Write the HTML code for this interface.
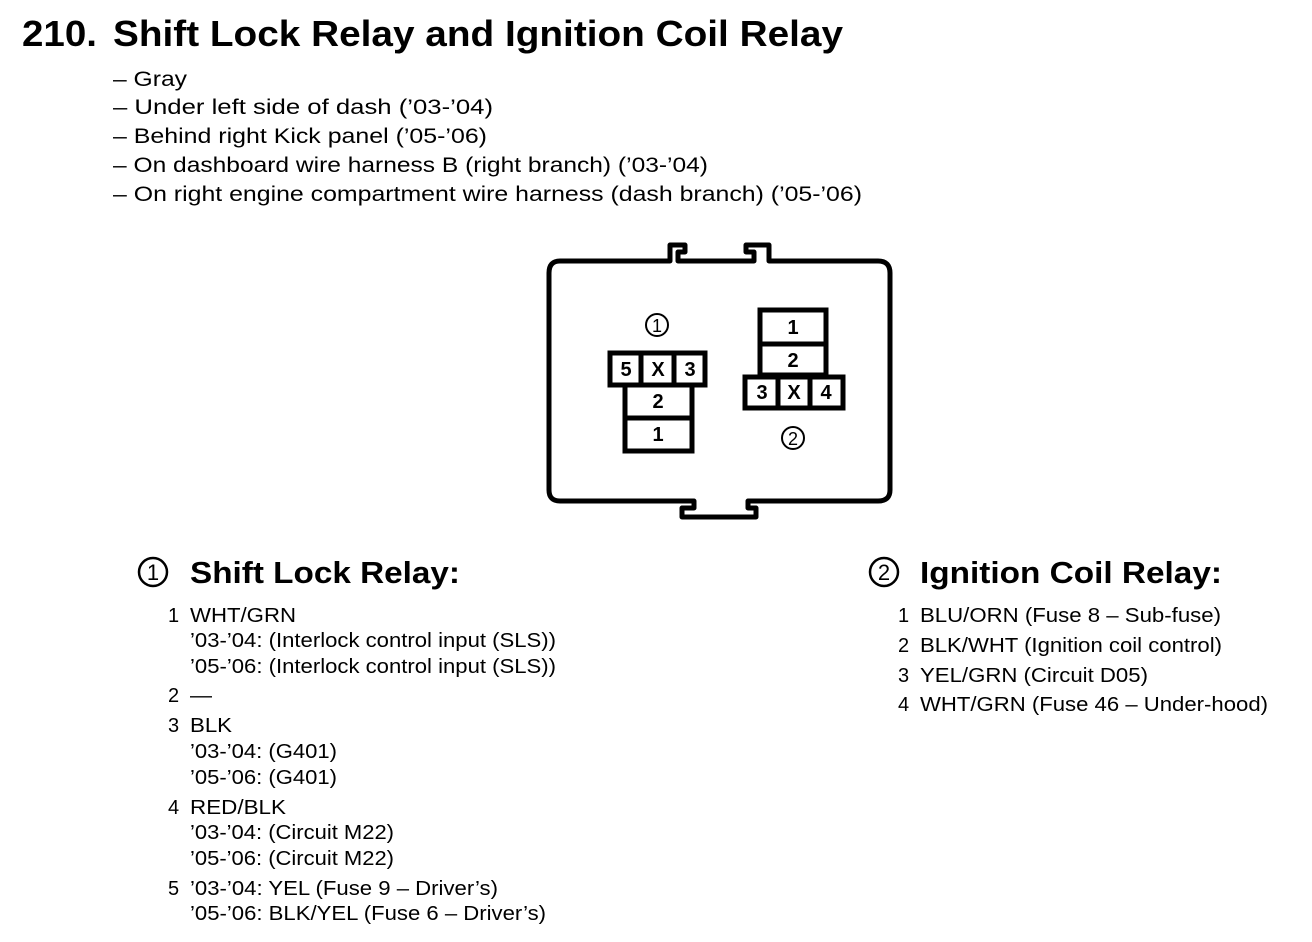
<!DOCTYPE html>
<html><head><meta charset="utf-8"><style>
html,body{margin:0;padding:0;background:#fff;width:1312px;height:942px;overflow:hidden}
svg{display:block}
text{font-family:"Liberation Sans",Arial,sans-serif;fill:#000}
.b{font-weight:bold}
</style></head><body>
<svg width="1312" height="942" viewBox="0 0 1312 942">
<g lengthAdjust="spacingAndGlyphs">
<text class="b" x="22" y="46" font-size="36" textLength="75" lengthAdjust="spacingAndGlyphs">210.</text>
<text class="b" x="113" y="46" font-size="36" textLength="730" lengthAdjust="spacingAndGlyphs">Shift Lock Relay and Ignition Coil Relay</text>
<g font-size="21">
<text x="113" y="86" textLength="74" lengthAdjust="spacingAndGlyphs">– Gray</text>
<text x="113" y="114" textLength="380" lengthAdjust="spacingAndGlyphs">– Under left side of dash (’03-’04)</text>
<text x="113" y="143" textLength="374" lengthAdjust="spacingAndGlyphs">– Behind right Kick panel (’05-’06)</text>
<text x="113" y="172" textLength="595" lengthAdjust="spacingAndGlyphs">– On dashboard wire harness B (right branch) (’03-’04)</text>
<text x="113" y="201" textLength="749" lengthAdjust="spacingAndGlyphs">– On right engine compartment wire harness (dash branch) (’05-’06)</text>
</g>
</g>
<!-- housing -->
<g fill="none" stroke="#000" stroke-width="5" stroke-linejoin="round">
<path d="M560 261 H670 V245 H685 V252 H678 V261 H754 V252 H746 V245 H769 V261 H878 Q890 261 890 273 V490 Q890 501 878 501 H748 V508 H756 V517 H682 V508 H694 V501 H560 Q549 501 549 490 V273 Q549 261 560 261 Z"/>
</g>
<!-- connector 1 -->
<g fill="none" stroke="#000" stroke-width="5">
<rect x="610" y="353" width="95" height="32"/>
<line x1="641" y1="353" x2="641" y2="385"/>
<line x1="674" y1="353" x2="674" y2="385"/>
<rect x="625" y="385" width="67" height="66"/>
<line x1="625" y1="418" x2="692" y2="418"/>
<rect x="760" y="310" width="66" height="65"/>
<line x1="760" y1="344" x2="826" y2="344"/>
<rect x="745" y="377" width="98" height="31"/>
<line x1="778" y1="377" x2="778" y2="408"/>
<line x1="810" y1="377" x2="810" y2="408"/>
<circle cx="657" cy="325" r="11" stroke-width="2"/>
<circle cx="793" cy="438" r="11" stroke-width="2"/>
</g>
<g class="b" font-size="20" text-anchor="middle" font-weight="bold">
<text x="626" y="376">5</text><text x="658" y="376">X</text><text x="690" y="376">3</text>
<text x="658" y="408">2</text><text x="658" y="441">1</text>
<text x="793" y="334">1</text><text x="793" y="367">2</text>
<text x="762" y="399">3</text><text x="794" y="399">X</text><text x="826" y="399">4</text>
<text x="657" y="332" font-size="18" font-weight="normal">1</text>
<text x="793" y="445" font-size="18" font-weight="normal">2</text>
</g>
<!-- headings -->
<g fill="none" stroke="#000" stroke-width="2.5">
<circle cx="153" cy="572" r="14"/><circle cx="884" cy="572" r="14"/>
</g>
<text x="153" y="580" font-size="22" text-anchor="middle">1</text>
<text x="884" y="580" font-size="22" text-anchor="middle">2</text>
<text class="b" x="190" y="583" font-size="31" textLength="270" lengthAdjust="spacingAndGlyphs">Shift Lock Relay:</text>
<text class="b" x="920" y="583" font-size="31" textLength="302" lengthAdjust="spacingAndGlyphs">Ignition Coil Relay:</text>
<g font-size="20">
<text x="168" y="622">1</text><text x="190" y="622" textLength="106" lengthAdjust="spacingAndGlyphs">WHT/GRN</text>
<text x="190" y="647" textLength="366" lengthAdjust="spacingAndGlyphs">’03-’04: (Interlock control input (SLS))</text>
<text x="190" y="673" textLength="366" lengthAdjust="spacingAndGlyphs">’05-’06: (Interlock control input (SLS))</text>
<text x="168" y="702">2</text><text x="190" y="702" textLength="22" lengthAdjust="spacingAndGlyphs">—</text>
<text x="168" y="732">3</text><text x="190" y="732" textLength="42" lengthAdjust="spacingAndGlyphs">BLK</text>
<text x="190" y="758" textLength="147" lengthAdjust="spacingAndGlyphs">’03-’04: (G401)</text>
<text x="190" y="784" textLength="147" lengthAdjust="spacingAndGlyphs">’05-’06: (G401)</text>
<text x="168" y="814">4</text><text x="190" y="814" textLength="96" lengthAdjust="spacingAndGlyphs">RED/BLK</text>
<text x="190" y="839" textLength="204" lengthAdjust="spacingAndGlyphs">’03-’04: (Circuit M22)</text>
<text x="190" y="865" textLength="204" lengthAdjust="spacingAndGlyphs">’05-’06: (Circuit M22)</text>
<text x="168" y="895">5</text><text x="190" y="895" textLength="308" lengthAdjust="spacingAndGlyphs">’03-’04: YEL (Fuse 9 – Driver’s)</text>
<text x="190" y="920" textLength="356" lengthAdjust="spacingAndGlyphs">’05-’06: BLK/YEL (Fuse 6 – Driver’s)</text>
<text x="898" y="622">1</text><text x="920" y="622" textLength="301" lengthAdjust="spacingAndGlyphs">BLU/ORN (Fuse 8 – Sub-fuse)</text>
<text x="898" y="652">2</text><text x="920" y="652" textLength="302" lengthAdjust="spacingAndGlyphs">BLK/WHT (Ignition coil control)</text>
<text x="898" y="682">3</text><text x="920" y="682" textLength="228" lengthAdjust="spacingAndGlyphs">YEL/GRN (Circuit D05)</text>
<text x="898" y="711">4</text><text x="920" y="711" textLength="348" lengthAdjust="spacingAndGlyphs">WHT/GRN (Fuse 46 – Under-hood)</text>
</g>
</svg>
</body></html>
